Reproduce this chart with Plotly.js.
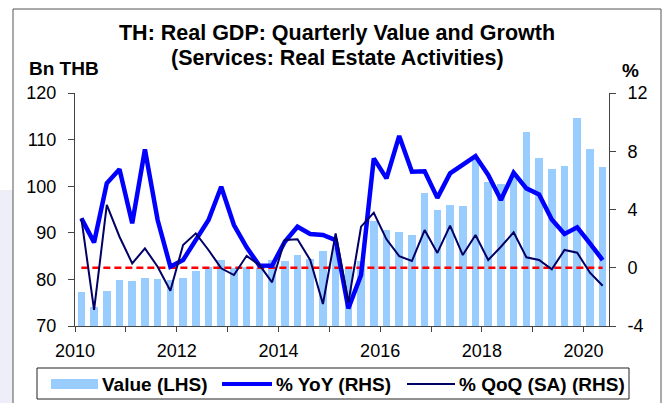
<!DOCTYPE html>
<html>
<head>
<meta charset="utf-8">
<script src="https://cdn.plot.ly/plotly-3.0.1.min.js"></script>
<style>
  html, body { margin: 0; padding: 0; background: #ffffff; }
  #chart { width: 669px; height: 403px; }
</style>
</head>
<body>
<div id="chart"></div>
<script>
// ---- Data (quarterly, 2010Q1 .. 2020Q2) ----
const startYear = 2010;
const valueLHS = [77.3, 74.1, 77.5, 79.8, 79.7, 80.2, 80.1, 79.8, 80.2, 81.9,
                  82.6, 84.2, 82.5, 82.7, 82.5, 84.2, 83.9, 85.2, 84.4, 86.0,
                  86.8, 82.4, 84.0, 92.5, 90.5, 90.2, 89.5, 98.5, 94.9, 96.0,
                  95.8, 105.8, 101.0, 100.4, 102.2, 111.6, 106.0, 103.7, 104.3, 114.7,
                  107.9, 104.2];
const yoyRHS = [3.39, 1.74, 5.8, 6.76, 3.05, 8.13, 3.28, 0.07, 0.53, 1.9,
                3.28, 5.56, 2.93, 1.4, 0.15, 0.14, 1.79, 2.82, 2.32, 2.25,
                1.9, -2.79, -0.5, 7.51, 6.14, 9.05, 6.6, 6.62, 4.8, 6.48,
                7.05, 7.67, 6.37, 4.65, 6.53, 5.45, 5.04, 3.32, 2.32, 2.78,
                1.68, 0.53];
const qoqRHS = [3.39, -2.9, 4.31, 2.13, 0.3, 1.33, 0.07, -1.58, 1.56, 2.36,
                1.22, -0.04, -0.5, 0.82, 0.2, -1.0, 1.9, 1.95, 0.53, -2.49,
                2.36, -2.4, 2.82, 3.78, 1.95, 0.8, 0.46, 2.59, 1.02, 2.89,
                0.87, 2.25, 0.53, 1.44, 2.43, 0.72, 0.53, -0.11, 1.22, 1.03,
                -0.34, -1.24];
const zeroRef = [0, 0];
const yearTicks = [2010, 2011, 2012, 2013, 2014, 2015, 2016, 2017, 2018, 2019, 2020];
const yearLabels = ['2010', '', '2012', '', '2014', '', '2016', '', '2018', '', '2020'];
const leftTicks = [70, 80, 90, 100, 110, 120];
const leftLabels = ['70', '80', '90', '100', '110', '120'];
const rightTicks = [-4, 0, 4, 8, 12];
const rightLabels = ['-4', '0', '4', '8', '12'];
const titleLine1 = 'TH: Real GDP: Quarterly Value and Growth';
const titleLine2 = '(Services: Real Estate Activities)';
const legendNames = ['Value (LHS)', '% YoY (RHS)', '% QoQ (SA) (RHS)'];

// quarter centres on a continuous year axis
const xq = valueLHS.map((_, i) => startYear + (i + 0.5) / 4);

// ---- pixel helpers for decoration placement ----
const PL = 75, PR = 609, PT = 93, PB = 326;
const px = x => (x - PL) / (PR - PL);
const py = y => (PB - y) / (PB - PT);

const FONT = '"Liberation Sans", Arial, sans-serif';
const BAR = '#99ccff', YOY = '#0000ff', QOQ = '#000066', ZERO = '#ff0000';

const traces = [
  { type: 'bar', x: xq, y: valueLHS, yaxis: 'y', width: 0.15,
    marker: { color: BAR, line: { width: 0 } }, name: legendNames[0], showlegend: false,
    hoverinfo: 'x+y' },
  { type: 'scatter', mode: 'lines', x: [xq[0], xq[xq.length - 1]], y: zeroRef, yaxis: 'y2',
    line: { color: ZERO, width: 2.5, dash: '7px,4px' }, showlegend: false, hoverinfo: 'skip' },
  { type: 'scatter', mode: 'lines', x: xq, y: yoyRHS, yaxis: 'y2',
    line: { color: YOY, width: 4.5 }, name: legendNames[1], showlegend: false },
  { type: 'scatter', mode: 'lines', x: xq, y: qoqRHS, yaxis: 'y2',
    line: { color: QOQ, width: 2 }, name: legendNames[2], showlegend: false }
];

const axisCommon = {
  showgrid: false, zeroline: false, showline: true, linecolor: '#444', linewidth: 1,
  ticks: 'outside', tickcolor: '#444', ticklen: 6, tickwidth: 1,
  tickfont: { family: FONT, size: 18, color: '#000' }
};

const layout = {
  width: 669, height: 403,
  margin: { l: PL, r: 669 - PR, t: PT, b: 403 - PB, pad: 0 },
  paper_bgcolor: '#ffffff', plot_bgcolor: 'rgba(0,0,0,0)',
  showlegend: false,
  bargap: 0,
  title: { text: '<b>' + titleLine1 + '</b>', x: 337 / 669, xanchor: 'center',
           y: 1 - 25 / 403, yanchor: 'top', yref: 'container',
           font: { family: FONT, size: 21.5, color: '#000' } },
  xaxis: Object.assign({}, axisCommon, {
    range: [startYear, startYear + valueLHS.length / 4],
    tickmode: 'array', tickvals: yearTicks, ticktext: yearLabels,
    ticklen: 5, ticklabelstandoff: 3
  }),
  yaxis: Object.assign({}, axisCommon, {
    range: [70, 120], tickmode: 'array', tickvals: leftTicks, ticktext: leftLabels,
    ticklabelstandoff: 8
  }),
  yaxis2: Object.assign({}, axisCommon, {
    range: [-4, 12], tickmode: 'array', tickvals: rightTicks, ticktext: rightLabels,
    overlaying: 'y', side: 'right', ticklabelstandoff: 8
  }),
  shapes: [
    { type: 'rect', xref: 'paper', yref: 'paper', layer: 'below',
      x0: px(0), x1: px(13), y0: py(410), y1: py(190),
      fillcolor: '#eeeef8', line: { width: 0 } },
    { type: 'rect', xref: 'paper', yref: 'paper', layer: 'above',
      x0: px(13), x1: px(661), y0: py(412), y1: py(9),
      fillcolor: 'rgba(0,0,0,0)', line: { color: '#555', width: 1 } },
    { type: 'rect', xref: 'paper', yref: 'paper',
      x0: px(37), x1: px(629), y0: py(399), y1: py(368),
      fillcolor: '#ffffff', line: { color: '#222', width: 1 } },
    { type: 'rect', xref: 'paper', yref: 'paper',
      x0: px(51), x1: px(98), y0: py(389), y1: py(379),
      fillcolor: BAR, line: { width: 0 } },
    { type: 'line', xref: 'paper', yref: 'paper',
      x0: px(222), x1: px(272), y0: py(384), y1: py(384),
      line: { color: YOY, width: 4 } },
    { type: 'line', xref: 'paper', yref: 'paper',
      x0: px(407), x1: px(455), y0: py(384), y1: py(384),
      line: { color: QOQ, width: 2 } }
  ],
  annotations: [
    { text: '<b>' + titleLine2 + '</b>', xref: 'paper', yref: 'paper',
      x: px(337), y: py(58), xanchor: 'center', yanchor: 'middle', showarrow: false,
      font: { family: FONT, size: 21.5, color: '#000' } },
    { text: '<b>Bn THB</b>', xref: 'paper', yref: 'paper',
      x: px(64), y: py(68), xanchor: 'center', yanchor: 'middle', showarrow: false,
      font: { family: FONT, size: 19, color: '#000' } },
    { text: '<b>%</b>', xref: 'paper', yref: 'paper',
      x: px(630), y: py(70), xanchor: 'center', yanchor: 'middle', showarrow: false,
      font: { family: FONT, size: 19, color: '#000' } },
    { text: '<b>' + legendNames[0] + '</b>', xref: 'paper', yref: 'paper',
      x: px(100), y: py(384), xanchor: 'left', yanchor: 'middle', showarrow: false,
      font: { family: FONT, size: 19, color: '#000' } },
    { text: '<b>' + legendNames[1] + '</b>', xref: 'paper', yref: 'paper',
      x: px(274), y: py(384), xanchor: 'left', yanchor: 'middle', showarrow: false,
      font: { family: FONT, size: 19, color: '#000' } },
    { text: '<b>' + legendNames[2] + '</b>', xref: 'paper', yref: 'paper',
      x: px(457), y: py(384), xanchor: 'left', yanchor: 'middle', showarrow: false,
      font: { family: FONT, size: 19, color: '#000' } }
  ]
};

Plotly.newPlot('chart', traces, layout, { displayModeBar: false, staticPlot: true });
</script>
</body>
</html>
